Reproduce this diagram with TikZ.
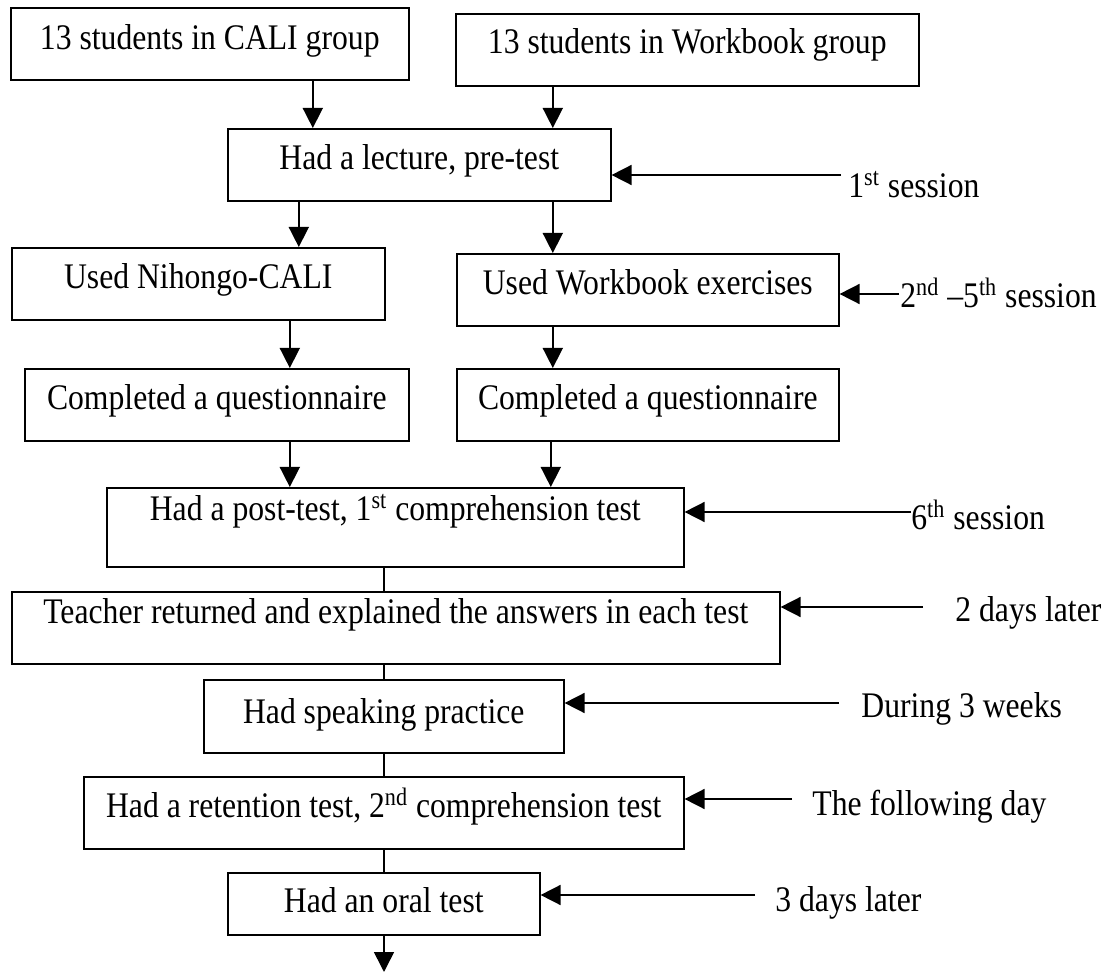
\documentclass[tikz,border=0pt]{standalone}
\usepackage{fontspec}
\setmainfont{Liberation Serif}[FakeStretch=0.88]
\usepackage{tikz}
\usetikzlibrary{arrows.meta}

\begin{document}
\begin{tikzpicture}[x=0.5pt, y=-0.5pt,
    process/.style={rectangle, draw=black, line width=0.8pt, anchor=north west, inner xsep=2pt, inner ysep=0pt,
        text height=20.5pt, text depth=15.5pt, font=\fontsize{18}{21}\selectfont},
    note/.style={inner sep=0pt, anchor=base west, font=\fontsize{18}{21}\selectfont},
    arrow/.style={line width=0.8pt, -{Triangle[length=10pt, width=10pt]}},
    link/.style={line width=0.8pt}]
    \useasboundingbox (0,0) rectangle (1110,973);

    % boxes
    \node [process, minimum width=199pt, text height=21pt, text depth=15pt] (caliGroup) at (10,7) {13 students in CALI group};
    \node [process, minimum width=231.5pt, text height=20pt, text depth=16pt] (wbGroup) at (455,13) {13 students in Workbook group};
    \node [process, minimum width=191.5pt] (lecture) at (227,128) {Had a lecture, pre-test};
    \node [process, minimum width=186.5pt] (nihongo) at (11,247) {Used Nihongo-CALI};
    \node [process, minimum width=191pt] (wbExercise) at (456,253) {Used Workbook exercises};
    \node [process, minimum width=192pt] (quesCali) at (24,368) {Completed a questionnaire};
    \node [process, minimum width=191pt] (quesWb) at (456,368) {Completed a questionnaire};
    \node [process, minimum width=288.5pt, text height=16.5pt, text depth=23pt] (postTest) at (106,487)
        {Had a post-test, 1\textsuperscript{st} comprehension test};
    \node [process, minimum width=384pt, text height=16pt, text depth=20pt] (teacher) at (11,591)
        {Teacher returned and explained the answers in each test};
    \node [process, minimum width=180pt, text height=22pt, text depth=14.5pt] (speaking) at (203,679) {Had speaking practice};
    \node [process, minimum width=300pt] (retention) at (83,776)
        {Had a retention test, 2\textsuperscript{nd} comprehension test};
    \node [process, minimum width=156pt, text height=20pt, text depth=11pt] (oral) at (227,872) {Had an oral test};
    \coordinate (finish) at (384,972);

    % flow
    \draw [arrow] (caliGroup.south) ++(103,0) coordinate (a1) -- (a1 |- lecture.north);
    \draw [arrow] (wbGroup.south) ++(-134.5,0) coordinate (a2) -- (a2 |- lecture.north);
    \draw [arrow] (lecture.south) ++(-120.5,0) coordinate (a3) -- (a3 |- nihongo.north);
    \draw [arrow] (lecture.south) ++(133.5,0) coordinate (a4) -- (a4 |- wbExercise.north);
    \draw [arrow] (nihongo.south) ++(91.5,0) coordinate (a5) -- (a5 |- quesCali.north);
    \draw [arrow] (wbExercise.south) ++(-95,0) coordinate (a6) -- (a6 |- quesWb.north);
    \draw [arrow] (quesCali.south) ++(73,0) coordinate (a7) -- (a7 |- postTest.north);
    \draw [arrow] (quesWb.south) ++(-97,0) coordinate (a8) -- (a8 |- postTest.north);
    \draw [link] (postTest.south -| finish) -- (teacher.north -| finish);
    \draw [link] (teacher.south -| finish) -- (speaking.north -| finish);
    \draw [link] (speaking.south -| finish) -- (retention.north -| finish);
    \draw [link] (retention.south -| finish) -- (oral.north -| finish);
    \draw [arrow] (oral.south -| finish) -- (finish);

    % timing notes
    \node [note] (session1) at (848,198) {1\textsuperscript{st} session};
    \node [note] (session25) at (900,308) {2\textsuperscript{nd} --5\textsuperscript{th} session};
    \node [note] (session6) at (911,530) {6\textsuperscript{th} session};
    \node [note] (twoDays) at (955,622) {2 days later};
    \node [note] (threeWeeks) at (861,718) {During 3 weeks};
    \node [note] (nextDay) at (812,815) {The following day};
    \node [note] (threeDays) at (775,911) {3 days later};

    \coordinate (t1) at (841,175);
    \coordinate (t2) at (899,294);
    \coordinate (t3) at (911,512);
    \coordinate (t4) at (923,607);
    \coordinate (t5) at (839,703);
    \coordinate (t6) at (792,799);
    \coordinate (t7) at (755,895);
    \draw [arrow] (t1) -- (t1 -| lecture.east);
    \draw [arrow] (t2) -- (t2 -| wbExercise.east);
    \draw [arrow] (t3) -- (t3 -| postTest.east);
    \draw [arrow] (t4) -- (t4 -| teacher.east);
    \draw [arrow] (t5) -- (t5 -| speaking.east);
    \draw [arrow] (t6) -- (t6 -| retention.east);
    \draw [arrow] (t7) -- (t7 -| oral.east);
\end{tikzpicture}
\end{document}
